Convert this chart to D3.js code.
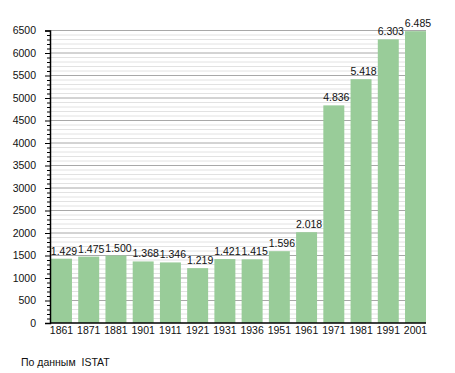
<!DOCTYPE html>
<html>
<head>
<meta charset="utf-8">
<script src="https://cdn.jsdelivr.net/npm/d3@7"></script>
<style>
  body { margin: 0; background: #fff; }
  text { font-family: "Liberation Sans", Arial, sans-serif; fill: #111; }
</style>
</head>
<body>
<script>
// population by census year
const years = ["1861", "1871", "1881", "1901", "1911", "1921", "1931", "1936", "1951", "1961", "1971", "1981", "1991", "2001"];
const population = [1429, 1475, 1500, 1368, 1346, 1219, 1421, 1415, 1596, 2018, 4836, 5418, 6303, 6485];
const majorTicks = [0, 500, 1000, 1500, 2000, 2500, 3000, 3500, 4000, 4500, 5000, 5500, 6000, 6500];
const minorTicks = d3.range(100, 6500, 100).filter(v => v % 500 !== 0);
const source = "По данным  ISTAT";

const width = 455, height = 373;
const plotLeft = 50, plotRight = 426, plotTop = 30.5, plotBottom = 323;

const svg = d3.select("body").append("svg")
  .attr("width", width)
  .attr("height", height);

const x = d3.scaleBand()
  .domain(years)
  .range([plotLeft + 1, plotRight])
  .paddingInner(0.23)
  .paddingOuter(0);

const y = d3.scaleLinear()
  .domain([0, 6500])
  .range([plotBottom, plotTop]);

// grid
svg.append("g").selectAll("line")
  .data(minorTicks)
  .enter().append("line")
  .attr("x1", plotLeft).attr("x2", plotRight)
  .attr("y1", d => y(d)).attr("y2", d => y(d))
  .attr("stroke", "#e2e2e2").attr("stroke-width", 1);

svg.append("g").selectAll("line")
  .data(majorTicks.filter(d => d > 0))
  .enter().append("line")
  .attr("x1", plotLeft).attr("x2", plotRight)
  .attr("y1", d => y(d)).attr("y2", d => y(d))
  .attr("stroke", "#a8a8a8").attr("stroke-width", 1);

// bars
svg.append("g").selectAll("rect")
  .data(population)
  .enter().append("rect")
  .attr("x", (d, i) => x(years[i]))
  .attr("y", d => y(d))
  .attr("width", x.bandwidth())
  .attr("height", d => plotBottom - y(d))
  .attr("fill", "#99cc99");

// value labels
const fmt = d => d3.format(",")(d).replace(",", ".");
svg.append("g").selectAll("text")
  .data(population)
  .enter().append("text")
  .attr("x", (d, i) => x(years[i]) + x.bandwidth() / 2 + 2.5)
  .attr("y", d => y(d) - 4)
  .attr("text-anchor", "middle")
  .attr("font-size", "10.5px")
  .text(fmt);

// y axis
const yAxis = svg.append("g")
  .attr("transform", `translate(${plotLeft},0)`)
  .call(d3.axisLeft(y).tickValues(majorTicks).tickSize(5).tickPadding(9).tickFormat(d3.format("d")));
yAxis.select(".domain").attr("stroke", "#000").attr("stroke-width", 1.5);
yAxis.selectAll(".tick line").attr("stroke", "#000");
yAxis.selectAll("text").attr("font-size", "10.5px").attr("font-family", "Liberation Sans, Arial, sans-serif");

svg.append("g")
  .attr("transform", `translate(${plotLeft},0)`)
  .call(d3.axisLeft(y).tickValues(minorTicks).tickSize(3).tickFormat(""))
  .call(g => g.select(".domain").remove())
  .selectAll("line").attr("stroke", "#000");

// x axis
const xAxis = svg.append("g")
  .attr("transform", `translate(0,${plotBottom})`)
  .call(d3.axisBottom(x).tickSize(0).tickPadding(4));
xAxis.select(".domain").attr("d", `M${plotLeft},0H${plotRight}`).attr("stroke", "#000").attr("stroke-width", 1.5);
xAxis.selectAll("text").attr("font-size", "10.5px").attr("font-family", "Liberation Sans, Arial, sans-serif");

svg.append("text")
  .attr("x", 21)
  .attr("y", 366)
  .attr("font-size", "10.5px")
  .style("white-space", "pre")
  .text(source);
</script>
</body>
</html>
